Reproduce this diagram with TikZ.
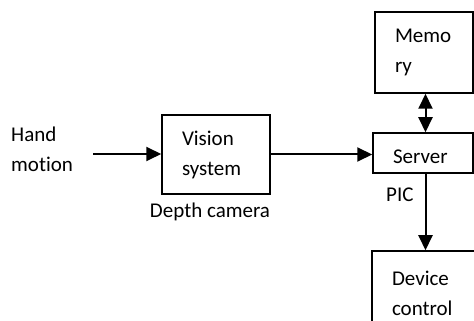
\documentclass[tikz,border=0pt]{standalone}
\usepackage{fontspec}
\setmainfont{Carlito}[Ligatures=NoCommon]
\usetikzlibrary{arrows.meta,positioning}
\tikzstyle{block} = [draw,line width=1.5pt,rectangle,inner xsep=20pt,inner ysep=0pt,align=left]
\tikzstyle{tag} = [inner sep=0pt,align=left,anchor=base west]
\tikzstyle{link} = [-{Triangle[length=15pt,width=14pt]},line width=2pt]
\tikzstyle{duplex} = [{Triangle[length=15pt,width=14pt]}-{Triangle[length=15pt,width=14pt]},line width=2pt]

\begin{document}
\begin{tikzpicture}[x=1pt,y=1pt,font=\fontsize{21}{30}\selectfont]
      \useasboundingbox (0,0) rectangle (474,321);
      \node[block,text width=68pt,minimum height=79pt] (vis) at (216,166.5) {Vision\\system};
      \node[block,text width=58pt,minimum height=81pt] (mem) at (424,268.5) {Memo\\ry};
      \node[block,text width=60pt,minimum height=40pt,text height=22pt,text depth=0pt] (srv) at (423,168) {Server};
      \node[block,text width=64pt,minimum height=85pt] (dev) at (424,27.5) {Device\\control};
      \node[tag] (hand) at (11,149) {Hand\\motion};
      \node[tag,anchor=base] (cam) at (210,103) {Depth camera};
      \node[tag] (pic) at (386,119) {PIC};
      \coordinate (in) at (93,167);
      \coordinate (bus) at (425.5,0);
      \draw[link] (in) -- (in -| vis.west);
      \draw[link] (vis.east) -- (vis.east -| srv.west);
      \draw[duplex] (mem.south -| bus) -- (srv.north -| bus);
      \draw[link] (srv.south -| bus) -- (dev.north -| bus);
    \end{tikzpicture}
\end{document}
